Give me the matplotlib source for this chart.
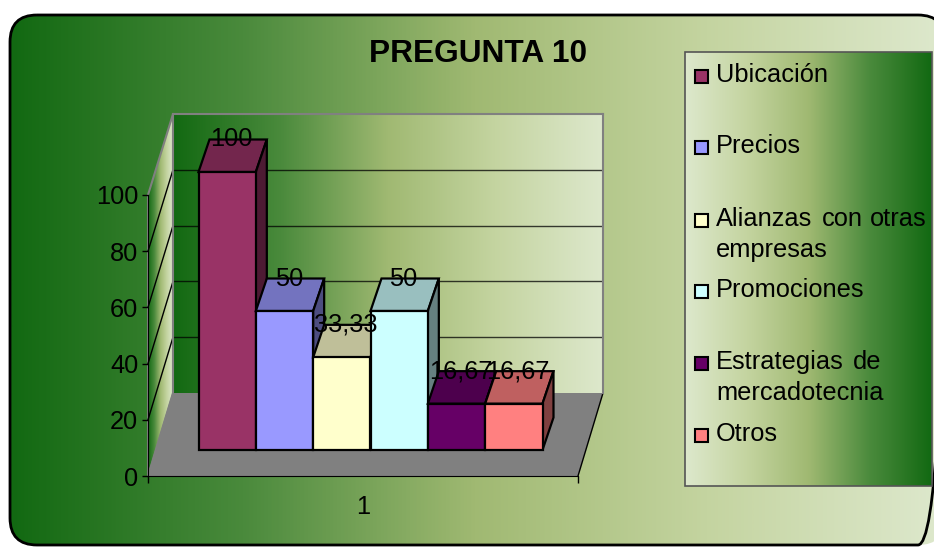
import numpy as np
import matplotlib
matplotlib.use("Agg")
import matplotlib.pyplot as plt
from matplotlib.colors import LinearSegmentedColormap, to_rgb
from matplotlib.patches import FancyBboxPatch, Polygon, Rectangle

plt.rcParams["font.family"] = ["Liberation Sans", "DejaVu Sans"]

values = [100, 50, 33.33, 50, 16.67, 16.67]
value_labels = ["100", "50", "33,33", "50", "16,67", "16,67"]
bar_colors = ["#993366", "#9999FF", "#FFFFCC", "#CCFFFF", "#660066", "#FF8080"]
y_ticks = [0, 20, 40, 60, 80, 100]
x_label = "1"
title = "PREGUNTA 10"

W, H = 934, 547
FS = 18.3
# depth of the fake 3d bars, in pixels
DEPTH_X, DEPTH_Y = 11, 32.5

green = LinearSegmentedColormap.from_list(
    "green", ["#126912", "#4a8a3c", "#a0b972", "#c4d4a0", "#dde8cc"])
grad = np.linspace(0, 1, 512).reshape(1, -1)


def px_axes(x0, y0, x1, y1, z):
    # axes placed from pixel corners, y measured from the top
    return plt.gcf().add_axes([x0 / W, 1 - y1 / H, (x1 - x0) / W, (y1 - y0) / H], zorder=z)


def shade(color, k):
    return tuple(c * k for c in to_rgb(color))


fig = plt.figure(figsize=(W / 100, H / 100), dpi=100, facecolor="white")

# page layer in pixel coordinates
bg = px_axes(0, 0, W, H, 0)
bg.set_xlim(0, W)
bg.set_ylim(H, 0)
bg.axis("off")

frame = FancyBboxPatch((10, 15), 935, 530, boxstyle="round,pad=0,rounding_size=27",
                       fc="none", ec="black", lw=2, zorder=5)
bg.add_patch(frame)
im = bg.imshow(grad, cmap=green, extent=(10, 940, 546, 14), aspect="auto", zorder=1)
im.set_clip_path(frame)

# side wall
side = Polygon([(148, 476), (173, 393), (173, 114), (148, 195)], closed=True,
               fc="none", ec="#808080", lw=1.5, zorder=3)
bg.add_patch(side)
im2 = bg.imshow(grad, cmap=green, extent=(148, 173, 476, 114), aspect="auto", zorder=2)
im2.set_clip_path(side)
for v in y_ticks[1:-1]:
    bg.plot([148, 173], [476 - v * 2.81, 393 - v * 2.79], color="black", lw=1, zorder=3)

# floor
bg.add_patch(Polygon([(148, 476), (578, 476), (603, 393), (173, 393)], closed=True,
                     fc="#808080", ec="none", zorder=3))
bg.plot([578, 603], [476, 393], color="black", lw=1, zorder=3)
bg.plot([173, 148], [393, 476], color="#808080", lw=1, zorder=3)

bg.text(478, 54.5, title, fontsize=22.8, fontweight="bold", ha="center", va="center", zorder=6)

# legend box
box = Rectangle((685, 52), 247, 434, fc="none", ec="#555555", lw=1.2, zorder=5)
bg.add_patch(box)
bg.imshow(grad[:, ::-1], cmap=green, extent=(685, 932, 486, 52), aspect="auto", zorder=4)
swatch_y = [76, 147, 220, 291, 363, 435]
# each legend row is a list of lines, each line a list of (x, word) so it can be justified
legend_lines = [
    [[(716, "Ubicación")]],
    [[(716, "Precios")]],
    [[(716, "Alianzas"), (822, "con"), (870, "otras")], [(716, "empresas")]],
    [[(716, "Promociones")]],
    [[(716, "Estrategias"), (853, "de")], [(716, "mercadotecnia")]],
    [[(716, "Otros")]],
]
for sy, lines, c in zip(swatch_y, legend_lines, bar_colors):
    bg.add_patch(Rectangle((695, sy - 6.5), 13, 13, fc=c, ec="black", lw=1.5, zorder=6))
    for i, line in enumerate(lines):
        for x, word in line:
            bg.text(x, sy - 1 + i * 31, word, fontsize=FS, ha="left", va="center", zorder=6)

bg.set_xlim(0, W)
bg.set_ylim(H, 0)

# back wall with gridlines
wall = px_axes(173, 114, 603, 393, 1)
wall.imshow(grad, cmap=green, extent=(0, 1, 0, 100), aspect="auto", zorder=0)
wall.set_xlim(0, 1)
wall.set_ylim(0, 100)
wall.set_xticks([])
wall.set_yticks([])
wall.hlines(y_ticks[1:-1], 0, 1, color="black", lw=1, alpha=0.75)
for name, s in wall.spines.items():
    s.set_color("#808080")
    s.set_linewidth(1.5)
wall.spines["bottom"].set_visible(False)

# value axis along the front edge of the floor
axis = px_axes(148, 195, 578, 476, 2)
axis.patch.set_alpha(0)
axis.set_xlim(0, 1)
axis.set_ylim(0, 100)
axis.set_yticks(y_ticks)
axis.set_xticks([0.5])
axis.set_xticklabels([x_label])
axis.set_xticks([0, 1], minor=True)
axis.tick_params(axis="y", labelsize=FS, length=4, width=1, pad=3)
axis.tick_params(axis="x", which="major", labelsize=FS, length=0, pad=14)
axis.tick_params(axis="x", which="minor", length=5, width=1)
axis.spines["top"].set_visible(False)
axis.spines["right"].set_visible(False)

# bars
ax = px_axes(198.5, 172, 542.5, 450, 3)
ax.patch.set_alpha(0)
ax.axis("off")
ax.set_xlim(-0.5, 5.5)
ax.set_ylim(0, 100)
dx = DEPTH_X / (344 / 6)
dy = DEPTH_Y / 2.78
for i, (v, c, lab) in enumerate(zip(values, bar_colors, value_labels)):
    l, r = i - 0.5, i + 0.5
    ax.add_patch(Polygon([(l, v), (r, v), (r + dx, v + dy), (l + dx, v + dy)], closed=True,
                         fc=shade(c, 0.75), ec="black", lw=1.6, zorder=i + 1, clip_on=False))
    ax.add_patch(Polygon([(r, 0), (r + dx, dy), (r + dx, v + dy), (r, v)], closed=True,
                         fc=shade(c, 0.5), ec="black", lw=1.6, zorder=i + 1, clip_on=False))
    ax.bar(i, v, width=1, color=c, edgecolor="black", linewidth=1.6, zorder=i + 1.5, clip_on=False)
    ax.text(i + dx / 2 - 0.02, v + dy, lab, fontsize=FS, ha="center", va="center", zorder=20, clip_on=False)
ax.set_xlim(-0.5, 5.5)
ax.set_ylim(0, 100)

fig.savefig("out.png", dpi=100)
